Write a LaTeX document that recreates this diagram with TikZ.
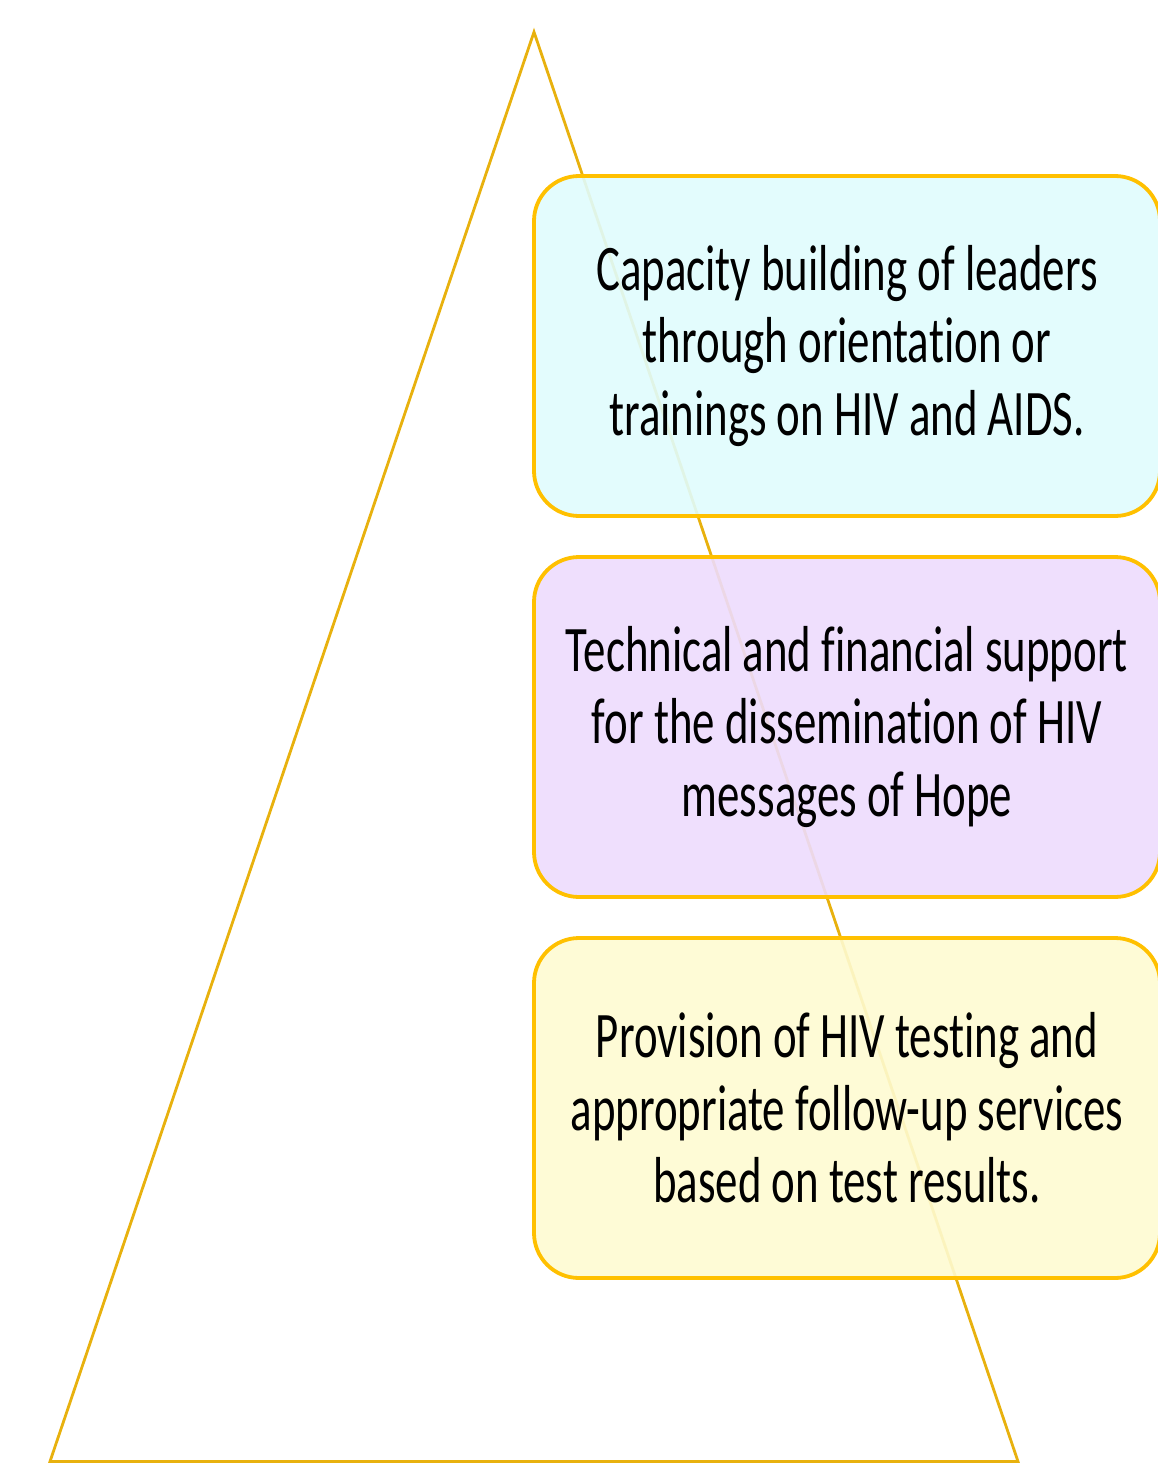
\documentclass[tikz,border=0pt]{standalone}
\usepackage{fontspec}
\newfontfamily\boxfont[FakeStretch=0.69,RawFeature={-liga;-clig;-calt;-dlig}]{Carlito}
\definecolor{triline}{HTML}{E8B10E}
\definecolor{boxline}{HTML}{FFC000}
\definecolor{fillA}{HTML}{E0FCFD}
\definecolor{fillB}{HTML}{EDDCFD}
\definecolor{fillC}{HTML}{FEFBD1}
\tikzset{
  x=1pt,y=-1pt,
  stepbox/.style={draw=boxline, line width=3.8pt, rounded corners=45pt,
    minimum width=626pt, minimum height=340pt, fill opacity=0.9, text opacity=1,
    align=center, font=\boxfont\fontsize{65}{72.5}\selectfont, inner sep=0pt},
  tri/.style={draw=triline, line width=2.8pt, line join=miter}
}
\begin{document}
\begin{tikzpicture}
\useasboundingbox (0,0) rectangle (1158,1463);
\coordinate (apex) at (534,32);
\coordinate (bl) at (50,1461.5);
\coordinate (br) at (1018,1461.5);
\draw[tri] (apex) -- (br) -- (bl) -- cycle;
\node[stepbox, fill=fillA] (b1) at (847,346) {Capacity building of leaders\\through orientation or\\trainings on HIV and AIDS.};
\node[stepbox, fill=fillB] (b2) at (847,727) {Technical and financial support\\for the dissemination of HIV\\messages of Hope};
\node[stepbox, fill=fillC] (b3) at (847,1108) {Provision of HIV testing and\\appropriate follow-up services\\based on test results.};
\end{tikzpicture}
\end{document}
